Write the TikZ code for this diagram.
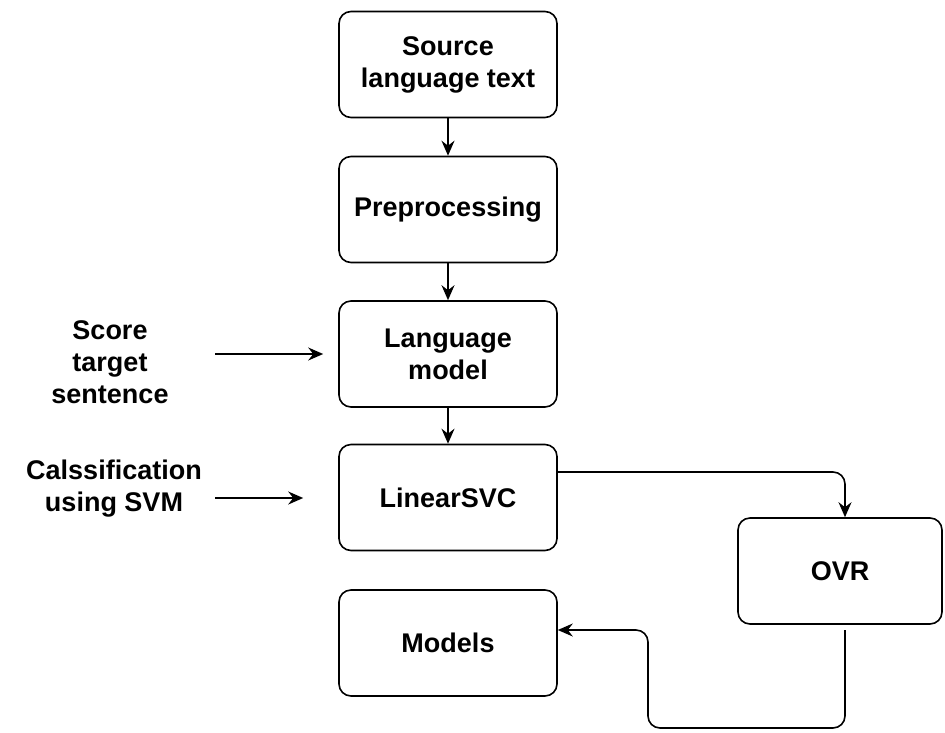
\documentclass[tikz,border=0pt]{standalone}
\usepackage{fontspec}
\setmainfont{Liberation Sans}
\usetikzlibrary{arrows.meta}

\tikzset{
  procbox/.style={draw, line width=1.6pt, rounded corners=12pt, align=center,
    minimum width=218pt, minimum height=106pt, inner sep=0pt,
    font=\fontsize{27}{32}\selectfont\bfseries},
  sidelabel/.style={align=center, inner sep=0pt,
    font=\fontsize{27}{32}\selectfont\bfseries},
  flow/.style={line width=1.6pt, -{Stealth[length=15pt,width=13pt,inset=5pt]}},
}

\begin{document}
\begin{tikzpicture}[x=1pt, y=-1pt]
  \useasboundingbox (0,0) rectangle (945,732);

  % main pipeline
  \node[procbox] (src)    at (448,64.5) {Source\\language text};
  \node[procbox] (pre)    at (448,209.5) {Preprocessing};
  \node[procbox] (lm)     at (448,354)  {Language\\model};
  \node[procbox] (svc)    at (448,497.5) {LinearSVC};
  \node[procbox] (models) at (448,643)  {Models};
  \node[procbox, minimum width=204pt] (ovr) at (840,571) {OVR};

  % inputs on the left
  \node[sidelabel] (score) at (110,362) {Score\\target\\sentence};
  \node[sidelabel] (cls)   at (114,489) {Calssification\\using SVM};

  % routing points
  \coordinate (s1) at (215,354);
  \coordinate (c1) at (215,498);
  \coordinate (k1) at (845,472);
  \coordinate (o1) at (845,630);
  \coordinate (d1) at (845,728);
  \coordinate (d2) at (648,728);

  % vertical flow
  \draw[flow] (src) -- (pre);
  \draw[flow] (pre) -- (lm);
  \draw[flow] (lm) -- (svc);

  % side inputs
  \draw[flow, shorten >=15pt] (s1) -- (lm.west |- s1);
  \draw[flow, shorten >=35pt] (c1) -- (svc.west |- c1);

  % LinearSVC to OVR
  \draw[flow, rounded corners=12pt] (svc.east |- k1) -| (ovr.north -| k1);

  % OVR back to Models
  \draw[flow, rounded corners=12pt] (o1) -- (d1) -- (d2) -- (d2 |- o1) -- (models.east |- o1);
\end{tikzpicture}
\end{document}
